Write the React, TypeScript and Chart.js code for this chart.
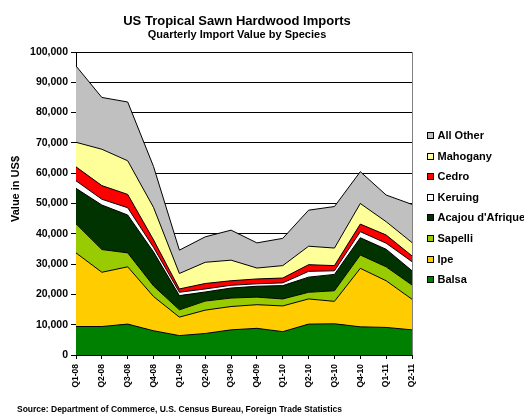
import React, { useEffect, useRef } from "react";
import { Chart, registerables } from "chart.js";

Chart.register(...registerables);

const categories = ["Q1-08", "Q2-08", "Q3-08", "Q4-08", "Q1-09", "Q2-09", "Q3-09", "Q4-09", "Q1-10", "Q2-10", "Q3-10", "Q4-10", "Q1-11", "Q2-11"];

const balsa = [9400, 9400, 10200, 8000, 6400, 7100, 8300, 8800, 7700, 10200, 10300, 9300, 9100, 8300];
const ipe = [24300, 17900, 18900, 11300, 6100, 7700, 7700, 7800, 8500, 8300, 7400, 19300, 15400, 10100];
const sapelli = [9600, 7500, 4600, 3500, 2400, 3000, 2800, 2500, 2300, 2200, 3500, 4400, 4600, 4700];
const acajou = [11700, 14700, 12500, 11200, 4700, 3000, 3300, 3600, 4400, 5000, 5400, 5700, 5800, 4700];
const keruing = [2500, 1900, 2400, 1500, 1100, 1000, 900, 800, 900, 1900, 1200, 2000, 2000, 3000];
const cedro = [4600, 4500, 4400, 2500, 1100, 1800, 1500, 1600, 1600, 2200, 1700, 2500, 2700, 1900];
const mahogany = [8100, 12000, 11100, 10700, 5100, 7000, 6800, 3600, 4100, 6100, 5800, 6800, 4400, 4400];
const allOther = [25200, 17100, 19400, 13500, 7700, 8400, 9900, 8300, 9000, 11900, 13700, 10500, 8800, 12600];

const yTicks = [0, 10000, 20000, 30000, 40000, 50000, 60000, 70000, 80000, 90000, 100000];

const seriesNames = ["Balsa", "Ipe", "Sapelli", "Acajou d'Afrique", "Keruing", "Cedro", "Mahogany", "All Other"];
const seriesColors = ["#008000", "#FFCC00", "#99CC00", "#003300", "#FFFFFF", "#FF0000", "#FFFF99", "#C0C0C0"];
const seriesData = [balsa, ipe, sapelli, acajou, keruing, cedro, mahogany, allOther];

const FONT = "'Liberation Sans', Arial, Helvetica, sans-serif";

const decorPlugin = {
  id: "decor",
  afterDraw(chart: any) {
    const ctx = chart.ctx as CanvasRenderingContext2D;
    const area = chart.chartArea;
    ctx.save();
    // right border of plot area
    ctx.strokeStyle = "#808080";
    ctx.lineWidth = 1;
    ctx.beginPath();
    ctx.moveTo(Math.round(area.right) + 0.5, area.top);
    ctx.lineTo(Math.round(area.right) + 0.5, area.bottom);
    ctx.stroke();

    // titles
    ctx.fillStyle = "#000";
    ctx.textAlign = "center";
    ctx.textBaseline = "alphabetic";
    ctx.font = `bold 13px ${FONT}`;
    ctx.fillText("US Tropical Sawn Hardwood Imports", 237, 25);
    ctx.font = `bold 11px ${FONT}`;
    ctx.fillText("Quarterly Import Value by Species", 237, 37.5);

    // y axis title
    ctx.save();
    ctx.translate(19, 189);
    ctx.rotate(-Math.PI / 2);
    ctx.font = `bold 11px ${FONT}`;
    ctx.textAlign = "center";
    ctx.fillText("Value in US$", 0, 0);
    ctx.restore();

    // legend
    ctx.font = `bold 11px ${FONT}`;
    ctx.textAlign = "left";
    ctx.textBaseline = "middle";
    for (let i = 0; i < seriesNames.length; i++) {
      const idx = seriesNames.length - 1 - i;
      const cy = 135.5 + i * 20.6;
      ctx.fillStyle = seriesColors[idx];
      ctx.fillRect(427.5, Math.round(cy - 3.5) + 0.5, 6, 6);
      ctx.strokeStyle = "#000";
      ctx.lineWidth = 1;
      ctx.strokeRect(427.5, Math.round(cy - 3.5) + 0.5, 6, 6);
      ctx.fillStyle = "#000";
      ctx.fillText(seriesNames[idx], 437.5, cy + 0.5);
    }

    // source
    ctx.font = `bold 8.5px ${FONT}`;
    ctx.textAlign = "left";
    ctx.textBaseline = "alphabetic";
    ctx.fillText("Source: Department of Commerce, U.S. Census Bureau, Foreign Trade Statistics", 17, 412);
    ctx.restore();
  },
};

export default function App() {
  const ref = useRef<HTMLCanvasElement | null>(null);
  useEffect(() => {
    if (!ref.current) return;
    const chart = new Chart(ref.current, {
      type: "line",
      data: {
        labels: categories,
        datasets: seriesData.map((d, i) => ({
          label: seriesNames[i],
          data: d,
          backgroundColor: seriesColors[i],
          borderColor: "#000",
          borderWidth: 1,
          pointRadius: 0,
          tension: 0,
          fill: i === 0 ? "origin" : "-1",
        })),
      },
      options: {
        responsive: false,
        animation: false,
        devicePixelRatio: 1,
        layout: { padding: { top: 52, right: 112, bottom: 0, left: 0 } },
        plugins: {
          legend: { display: false },
          title: { display: false },
          tooltip: { enabled: false },
        },
        scales: {
          x: {
            type: "category",
            offset: false,
            grid: { display: true, drawOnChartArea: false, tickLength: 4, color: "#000" },
            border: { display: true, color: "#000" },
            ticks: {
              autoSkip: false,
              maxRotation: 90,
              minRotation: 90,
              padding: 5,
              color: "#000",
              font: { family: FONT, size: 8.5, weight: "bold" },
            },
            afterFit: (scale: any) => {
              scale.height = 59;
            },
          },
          y: {
            stacked: true,
            min: 0,
            max: 100000,
            afterBuildTicks: (scale: any) => {
              scale.ticks = yTicks.map((v) => ({ value: v }));
            },
            grid: { color: "#000", tickLength: 5 },
            border: { display: true, color: "#000" },
            ticks: {
              padding: 3,
              color: "#000",
              font: { family: FONT, size: 10.5, weight: "bold" },
              callback: (v: any) => Number(v).toLocaleString("en-US"),
            },
            afterFit: (scale: any) => {
              scale.width = 76;
            },
          },
        },
      },
      plugins: [decorPlugin],
    });
    return () => chart.destroy();
  }, []);
  return (
    <div style={{ position: "absolute", left: 0, top: 0, width: 524, height: 414, background: "#fff" }}>
      <canvas ref={ref} width={524} height={414} />
    </div>
  );
}
